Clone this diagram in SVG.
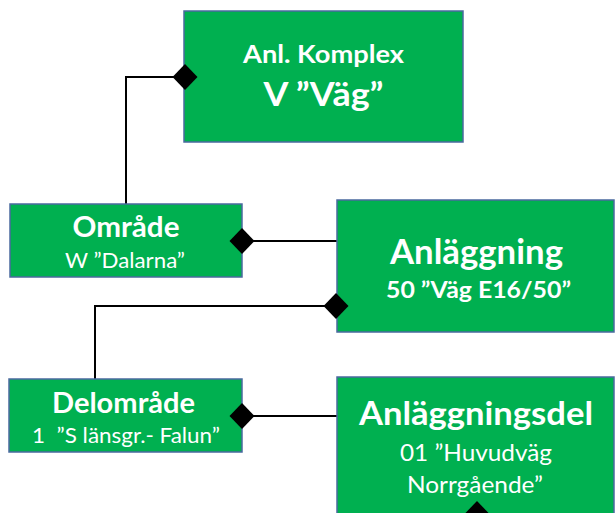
<svg xmlns="http://www.w3.org/2000/svg" width="615" height="513" viewBox="0 0 615 513">
  <style>
    .box { fill: #00B050; stroke: #4A6A9E; stroke-width: 1.5; }
    .t { fill: #ffffff; font-family: Lato, "Open Sans", "Liberation Sans", sans-serif; text-anchor: middle; }
    .b { font-weight: bold; }
    .link { fill: none; stroke: #000000; stroke-width: 2; }
    .dia { fill: #000000; }
  </style>
  <defs>
    <polygon id="diamond" points="0,-13 12.5,0 0,13 -12.5,0"/>
  </defs>
  <rect width="615" height="513" fill="#ffffff"/>

  <g id="connectors">
    <polyline class="link" points="185,77 126,77 126,204"/>
    <line class="link" x1="242" y1="241" x2="337" y2="241"/>
    <polyline class="link" points="336,306 95,306 95,379"/>
    <line class="link" x1="242" y1="416" x2="337" y2="416"/>
  </g>

  <g id="anl-komplex">
    <rect class="box" x="184" y="11" width="279" height="131"/>
    <text class="t b" x="323.5" y="63" font-size="24" textLength="161" lengthAdjust="spacingAndGlyphs">Anl. Komplex</text>
    <text class="t b" x="323.5" y="106" font-size="33" textLength="120" lengthAdjust="spacingAndGlyphs">V ”Väg”</text>
  </g>

  <g id="omrade">
    <rect class="box" x="10" y="204" width="232" height="73"/>
    <text class="t b" x="126" y="237" font-size="28" textLength="107" lengthAdjust="spacingAndGlyphs">Område</text>
    <text class="t" x="125" y="268" font-size="21" textLength="120" lengthAdjust="spacingAndGlyphs">W ”Dalarna”</text>
  </g>

  <g id="anlaggning">
    <rect class="box" x="337" y="200" width="277" height="132"/>
    <text class="t b" x="476.5" y="264" font-size="34" textLength="173" lengthAdjust="spacingAndGlyphs">Anläggning</text>
    <text class="t b" x="478.5" y="298" font-size="23" textLength="185" lengthAdjust="spacingAndGlyphs">50 ”Väg E16/50”</text>
  </g>

  <g id="delomrade">
    <rect class="box" x="9" y="379" width="233" height="73"/>
    <text class="t b" x="123.5" y="413" font-size="28" textLength="143" lengthAdjust="spacingAndGlyphs">Delområde</text>
    <text class="t" x="126" y="443" font-size="21" textLength="188" lengthAdjust="spacingAndGlyphs" xml:space="preserve">1  ”S länsgr.- Falun”</text>
  </g>

  <g id="anlaggningsdel">
    <rect class="box" x="337" y="377" width="277" height="140"/>
    <text class="t b" x="476" y="425" font-size="33" textLength="234" lengthAdjust="spacingAndGlyphs">Anläggningsdel</text>
    <text class="t" x="476" y="461" font-size="23" textLength="152" lengthAdjust="spacingAndGlyphs">01 ”Huvudväg</text>
    <text class="t" x="475" y="493" font-size="23" textLength="136" lengthAdjust="spacingAndGlyphs">Norrgående”</text>
  </g>

  <g id="markers">
    <use href="#diamond" class="dia" x="185" y="77"/>
    <use href="#diamond" class="dia" x="242" y="241"/>
    <use href="#diamond" class="dia" x="336" y="306"/>
    <use href="#diamond" class="dia" x="242" y="416"/>
    <use href="#diamond" class="dia" x="477" y="514"/>
  </g>
</svg>
